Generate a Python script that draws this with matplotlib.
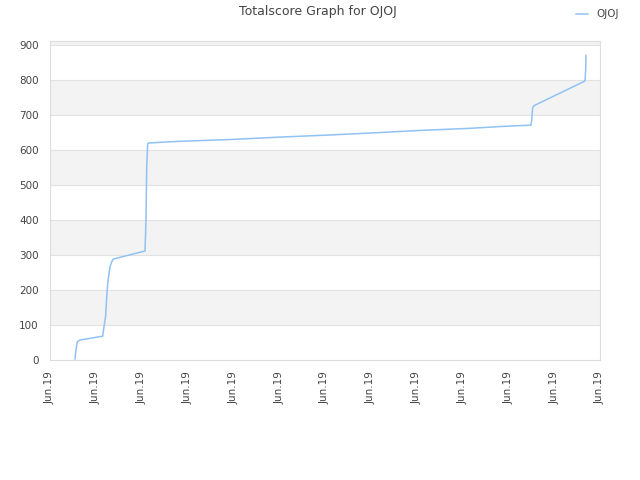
import matplotlib
matplotlib.use("Agg")
import matplotlib.pyplot as plt
import matplotlib.dates as mdates
import pandas as pd

# time of each score change, in days after 2019-06-01
day_offsets = [1.091, 1.135, 1.191, 1.309, 2.300, 2.335, 2.431, 2.474, 2.518,
               2.575, 2.618, 2.692, 2.762, 4.145, 4.167, 4.189, 4.219, 4.263,
               4.289, 4.800, 5.673, 7.855, 10.036, 12.218, 14.400, 16.145,
               18.327, 19.636, 20.583, 20.989, 21.019, 21.063, 21.131, 23.345,
               23.375, 23.389]
scores = [3, 28, 52, 57, 68, 85, 128, 180, 218,
          247, 266, 280, 288, 311, 351, 405, 547, 617,
          619, 621, 624, 629, 636, 642, 649, 655,
          661, 666, 669, 670, 684, 720, 726, 796,
          826, 869]
start = "2019-06-01"
n_ticks = 13
tick_step_days = 2
y_max = 911

times = pd.Timestamp(start) + pd.to_timedelta(day_offsets, unit="D")
tick_times = [pd.Timestamp(start) + pd.Timedelta(days=i * tick_step_days) for i in range(n_ticks)]

fig = plt.figure(figsize=(6.4, 4.8), dpi=100)
ax = fig.add_axes([50 / 640, 120 / 480, 550 / 640, (360 - 40.7) / 480])

# alternating bands
for lo in range(100, y_max, 200):
    ax.axhspan(lo, min(lo + 100, y_max), color="#f3f3f3", zorder=0, lw=0)
for y in range(100, 1000, 100):
    ax.axhline(y, color="#e2e2e2", lw=0.8, zorder=1)

ax.plot(times, scores, color="#90c2f4", lw=1.1, label="OJOJ", zorder=3)

ax.set_ylim(0, y_max)
ax.set_yticks(range(0, 1000, 100))
ax.set_xlim(tick_times[0], tick_times[-1])
ax.set_xticks(tick_times)
ax.xaxis.set_major_formatter(mdates.DateFormatter("%b.%y"))
ax.tick_params(axis="x", rotation=90, length=0, labelsize=7.5, colors="#444444", pad=8)
ax.tick_params(axis="y", length=0, labelsize=7.5, colors="#444444", pad=8)
for side in ax.spines.values():
    side.set_color("#dddddd")

fig.suptitle("Totalscore Graph for OJOJ", x=0.497, y=0.99, fontsize=9, color="#444444")
fig.legend(loc="upper right", bbox_to_anchor=(0.982, 1.0), frameon=False,
           fontsize=7.5, handlelength=1.2, handletextpad=0.8, labelcolor="#444444")

fig.savefig("out.png", dpi=100)
